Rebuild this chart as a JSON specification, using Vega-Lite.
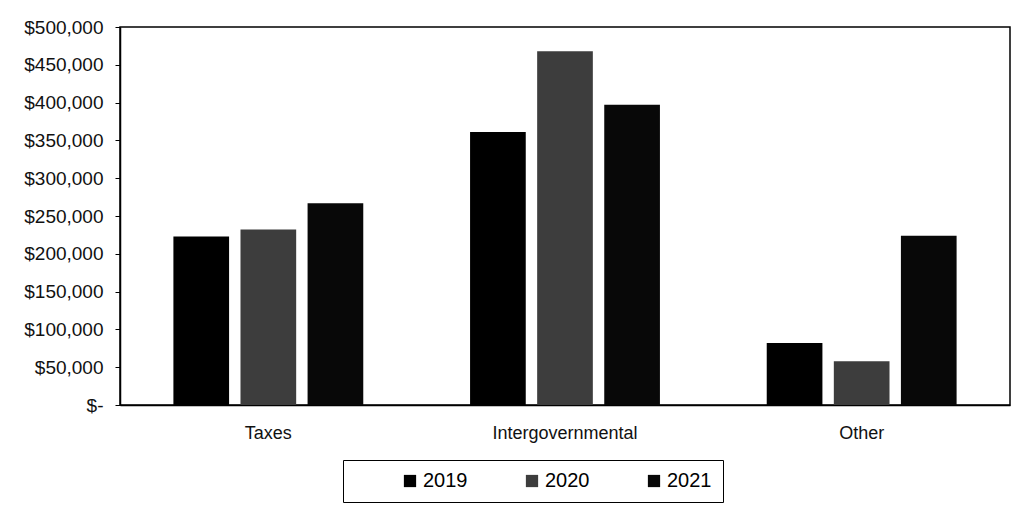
{
  "$schema": "https://vega.github.io/schema/vega-lite/v6.json",
  "autosize": {"type": "none"},
  "width": 890,
  "height": 378,
  "padding": {"left": 120, "top": 27, "right": 9, "bottom": 105},
  "background": "white",
  "config": {
    "font": "Liberation Sans",
    "view": {"stroke": "#000", "strokeWidth": 1.5},
    "axis": {"grid": false, "domainColor": "#000", "tickColor": "#000", "labelColor": "#111"}
  },
  "data": {
    "values": [
      {"category": "Taxes", "year": "2019", "amount": 223000},
      {"category": "Taxes", "year": "2020", "amount": 232000},
      {"category": "Taxes", "year": "2021", "amount": 267000},
      {"category": "Intergovernmental", "year": "2019", "amount": 361000},
      {"category": "Intergovernmental", "year": "2020", "amount": 468000},
      {"category": "Intergovernmental", "year": "2021", "amount": 397000},
      {"category": "Other", "year": "2019", "amount": 82000},
      {"category": "Other", "year": "2020", "amount": 58000},
      {"category": "Other", "year": "2021", "amount": 224000}
    ]
  },
  "mark": {"type": "bar"},
  "encoding": {
    "x": {
      "field": "category",
      "type": "nominal",
      "sort": ["Taxes", "Intergovernmental", "Other"],
      "scale": {"paddingInner": 0.36, "paddingOuter": 0.18},
      "axis": {"title": null, "labelAngle": 0, "labelFontSize": 18, "labelPadding": 19, "ticks": false, "domainWidth": 1.5}
    },
    "xOffset": {"field": "year", "type": "nominal", "scale": {"paddingInner": 0.17}},
    "y": {
      "field": "amount",
      "type": "quantitative",
      "scale": {"domain": [0, 500000]},
      "axis": {
        "title": null,
        "values": [0, 50000, 100000, 150000, 200000, 250000, 300000, 350000, 400000, 450000, 500000],
        "labelExpr": "datum.value == 0 ? '$-' : '$' + format(datum.value, ',')",
        "labelOverlap": false,
        "labelFontSize": 19,
        "tickSize": 5,
        "labelPadding": 12,
        "domainWidth": 1.5
      }
    },
    "color": {
      "field": "year",
      "type": "nominal",
      "scale": {"domain": ["2019", "2020", "2021"], "range": ["#000000", "#3d3d3d", "#080808"]},
      "legend": {
        "title": null,
        "orient": "none",
        "direction": "horizontal",
        "legendX": 223,
        "legendY": 433,
        "symbolType": "square",
        "symbolSize": 150,
        "symbolOffset": 46,
        "symbolStrokeWidth": 0,
        "labelFontSize": 20,
        "labelOffset": 3,
        "columnPadding": 8,
        "padding": 11,
        "strokeColor": "#000",
        "fillColor": "white"
      }
    }
  }
}
